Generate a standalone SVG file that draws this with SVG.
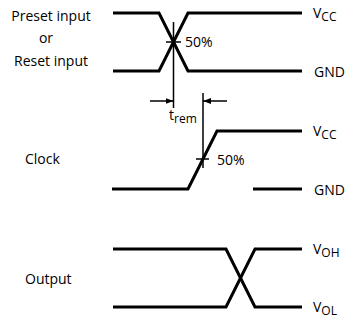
<svg xmlns="http://www.w3.org/2000/svg" width="348" height="320" viewBox="0 0 348 320">
<style>
.sig{fill:none;stroke:#000;stroke-width:3;stroke-linejoin:miter}
.thin{fill:none;stroke:#000;stroke-width:1.5}
text{font-family:"Open Sans","DejaVu Sans",sans-serif;font-size:14px;fill:#000}
.sub{font-size:12px}
</style>
<defs>
<marker id="ah" viewBox="0 0 8 6" refX="8" refY="3" markerWidth="8" markerHeight="6" markerUnits="userSpaceOnUse" orient="auto">
<path d="M0,0 L8,3 L0,6 Z" fill="#000"/>
</marker>
</defs>
<g id="preset">
<text x="51" y="21" text-anchor="middle">Preset input</text>
<text x="46" y="43" text-anchor="middle">or</text>
<text x="51" y="66" text-anchor="middle">Reset input</text>
<polyline class="sig" points="113,13 159,13 188,71 302,71"/>
<polyline class="sig" points="113,71 159,71 188,13 302,13"/>
<text x="313" y="18">V<tspan class="sub" dy="3">CC</tspan></text>
<text x="314" y="77">GND</text>
<line class="thin" x1="166" y1="42" x2="181" y2="42"/>
<text x="185" y="47">50%</text>
</g>
<g id="clock">
<text x="25" y="164">Clock</text>
<polyline class="sig" points="112,189 188,189 217,131 302,131"/>
<line class="sig" x1="253" y1="189" x2="302" y2="189"/>
<text x="313" y="136">V<tspan class="sub" dy="3">CC</tspan></text>
<text x="314" y="195">GND</text>
<line class="thin" x1="196" y1="159" x2="209" y2="159"/>
<text x="217" y="165">50%</text>
</g>
<g id="output">
<text x="25" y="284">Output</text>
<polyline class="sig" points="113,249 226,249 255,307 302,307"/>
<polyline class="sig" points="113,307 226,307 255,249 302,249"/>
<text x="313" y="254">V<tspan class="sub" dy="3">OH</tspan></text>
<text x="313" y="312">V<tspan class="sub" dy="3">OL</tspan></text>
</g>
<g id="connectors">
<line class="thin" x1="173.5" y1="22" x2="173.5" y2="108"/>
<line class="thin" x1="203" y1="93" x2="203" y2="168"/>
<line class="thin" x1="150" y1="101" x2="173.5" y2="101" marker-end="url(#ah)"/>
<line class="thin" x1="227" y1="101" x2="203" y2="101" marker-end="url(#ah)"/>
<text x="169" y="120">t<tspan class="sub" dy="3">rem</tspan></text>
</g>
</svg>
